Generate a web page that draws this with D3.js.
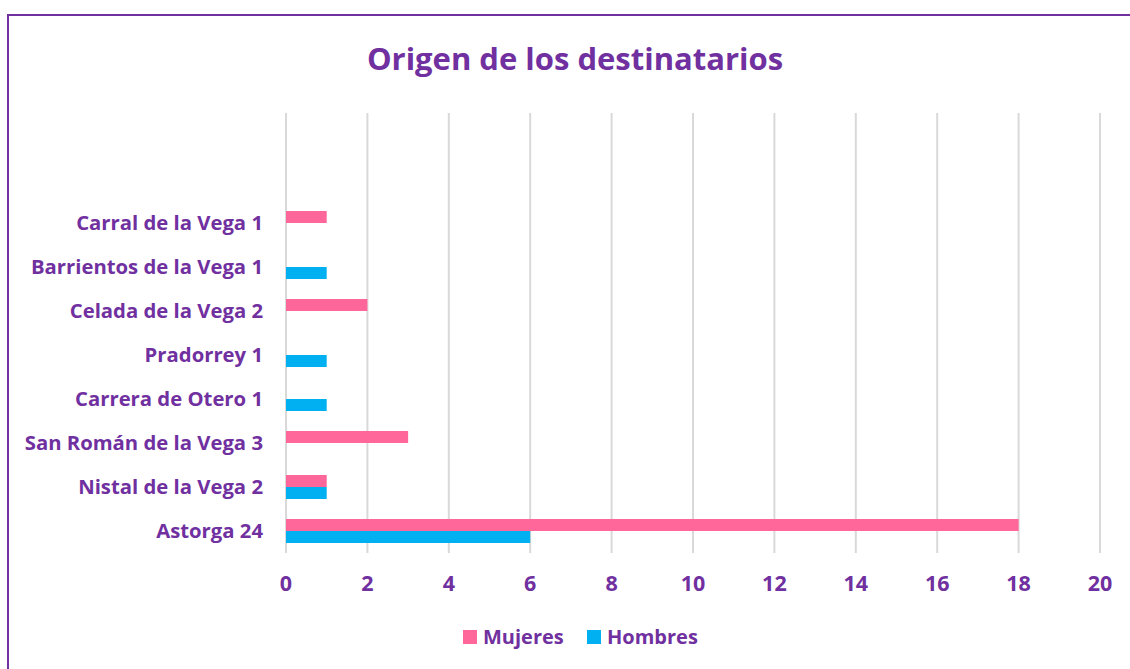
<!DOCTYPE html>
<html>
<head>
<meta charset="utf-8">
<script src="https://cdn.jsdelivr.net/npm/d3@7"></script>
<style>
  body { margin: 0; background: #fff; }
  svg text { font-family: "Open Sans", Lato, sans-serif; font-weight: bold; fill: #7030A0; }
</style>
</head>
<body>
<svg width="1130" height="669"></svg>
<script>
// **** data ****
var categories = ['Astorga 24', 'Nistal de la Vega 2', 'San Román de la Vega 3', 'Carrera de Otero 1',
  'Pradorrey 1', 'Celada de la Vega 2', 'Barrientos de la Vega 1', 'Carral de la Vega 1'];
var mujeres = [18, 1, 3, 0, 0, 2, 0, 1];
var hombres = [6, 1, 0, 1, 1, 0, 1, 0];
var xTicks = [0, 2, 4, 6, 8, 10, 12, 14, 16, 18, 20];
var seriesNames = ['Mujeres', 'Hombres'];
var seriesColors = ['#FF6699', '#00B0F0'];

var svg = d3.select('svg');

// frame
svg.append('rect')
  .attr('x', 8).attr('y', 15)
  .attr('width', 1140).attr('height', 680)
  .attr('fill', 'none')
  .attr('stroke', '#7030A0')
  .attr('stroke-width', 2);

// **** scales ****
var xScale = d3.scaleLinear().domain([0, 20]).range([286, 1100]);
// ten slots, the top two are empty
var yScale = d3.scaleBand().domain(d3.range(10)).range([553, 113]);
var barH = 12;

// gridlines
svg.append('g').selectAll('line').data(xTicks).enter().append('line')
  .attr('x1', function(d) { return xScale(d); })
  .attr('x2', function(d) { return xScale(d); })
  .attr('y1', 113).attr('y2', 553)
  .attr('stroke', '#D9D9D9')
  .attr('stroke-width', 2);

// bars
var rows = categories.map(function(c, i) { return { i: i, name: c, m: mujeres[i], h: hombres[i] }; });

svg.append('g').selectAll('rect').data(rows.filter(function(d) { return d.m > 0; })).enter().append('rect')
  .attr('x', xScale(0))
  .attr('y', function(d) { return yScale(d.i) + yScale.bandwidth() / 2 - barH; })
  .attr('width', function(d) { return xScale(d.m) - xScale(0); })
  .attr('height', barH)
  .attr('fill', seriesColors[0]);

svg.append('g').selectAll('rect').data(rows.filter(function(d) { return d.h > 0; })).enter().append('rect')
  .attr('x', xScale(0))
  .attr('y', function(d) { return yScale(d.i) + yScale.bandwidth() / 2; })
  .attr('width', function(d) { return xScale(d.h) - xScale(0); })
  .attr('height', barH)
  .attr('fill', seriesColors[1]);

// category labels
svg.append('g').selectAll('text').data(rows).enter().append('text')
  .attr('x', 263)
  .attr('y', function(d) { return yScale(d.i) + yScale.bandwidth() / 2; })
  .attr('dy', '0.35em')
  .attr('text-anchor', 'end')
  .style('font-size', '20.3px')
  .text(function(d) { return d.name; });

// x tick labels
svg.append('g').selectAll('text').data(xTicks).enter().append('text')
  .attr('x', function(d) { return xScale(d); })
  .attr('y', 583)
  .attr('dy', '0.35em')
  .attr('text-anchor', 'middle')
  .style('font-size', '21.5px')
  .text(function(d) { return d; });

// title
svg.append('text')
  .attr('x', 575).attr('y', 70)
  .attr('text-anchor', 'middle')
  .style('font-size', '31px')
  .text('Origen de los destinatarios');

// legend
var legendX = [463, 587];
var legend = svg.append('g').selectAll('g').data(seriesNames).enter().append('g')
  .attr('transform', function(d, i) { return 'translate(' + legendX[i] + ',630)'; });
legend.append('rect')
  .attr('width', 14).attr('height', 14)
  .attr('fill', function(d, i) { return seriesColors[i]; });
legend.append('text')
  .attr('x', 20).attr('y', 7)
  .attr('dy', '0.35em')
  .style('font-size', '20px')
  .text(function(d) { return d; });
</script>
</body>
</html>
